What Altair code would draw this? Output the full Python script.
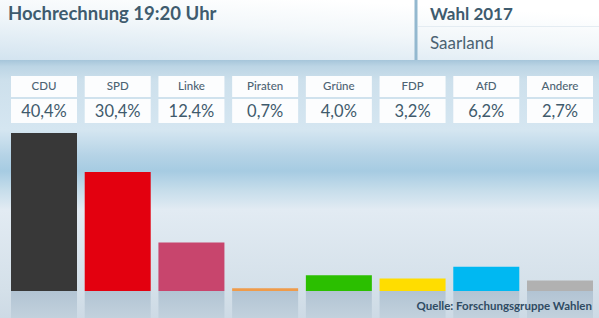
import altair as alt
import pandas as pd

parties = ["CDU", "SPD", "Linke", "Piraten", "Grüne", "FDP", "AfD", "Andere"]
values = [40.4, 30.4, 12.4, 0.7, 4.0, 3.2, 6.2, 2.7]
labels = ["40,4%", "30,4%", "12,4%", "0,7%", "4,0%", "3,2%", "6,2%", "2,7%"]
colors = ["#383838", "#e3000f", "#c8456d", "#ef9b4a", "#2bbf00", "#ffdd00", "#00b8f2", "#b1b1b1"]

title = "Hochrechnung 19:20 Uhr"
election = "Wahl 2017"
region = "Saarland"
source = "Quelle: Forschungsgruppe Wahlen"

FONT = "Lato"
df = pd.DataFrame({"party": parties, "value": values, "label": labels})
one = pd.DataFrame({"k": [0]})

xenc = alt.X("party:N", sort=parties, axis=None,
             scale=alt.Scale(range=[11, 593], paddingInner=0.1047, paddingOuter=0))

header_bg = alt.Chart(one).mark_rect(
    fill=alt.Gradient(gradient="linear", x1=0, y1=1, x2=0.55, y2=0,
                      stops=[alt.GradientStop(offset=0, color="#d3e4f0"),
                             alt.GradientStop(offset=0.6, color="#f2f7fa"),
                             alt.GradientStop(offset=1, color="#ffffff")])
).encode(x=alt.value(0), x2=alt.value(599), y=alt.value(0), y2=alt.value(60))

main_bg = alt.Chart(one).mark_rect(
    fill=alt.Gradient(gradient="linear", x1=0, y1=0, x2=0, y2=1,
                      stops=[alt.GradientStop(offset=0, color="#a6c5da"),
                             alt.GradientStop(offset=0.025, color="#bcd5e5"),
                             alt.GradientStop(offset=0.08, color="#cde0ec"),
                             alt.GradientStop(offset=0.27, color="#d5e6f1"),
                             alt.GradientStop(offset=0.37, color="#b5d3e6"),
                             alt.GradientStop(offset=0.43, color="#a6cbe2"),
                             alt.GradientStop(offset=0.5, color="#c4dcea"),
                             alt.GradientStop(offset=0.58, color="#e2ebf3"),
                             alt.GradientStop(offset=0.89, color="#d4e0e9"),
                             alt.GradientStop(offset=1, color="#cddae5")])
).encode(x=alt.value(0), x2=alt.value(599), y=alt.value(60), y2=alt.value(318))

divider_v = alt.Chart(one).mark_rule(stroke="#93b8cf", strokeWidth=3).encode(
    x=alt.value(416), y=alt.value(0), y2=alt.value(60))
divider_h = alt.Chart(one).mark_rule(stroke="#e4ecf2", strokeWidth=1).encode(
    x=alt.value(418), x2=alt.value(599), y=alt.value(26.5))

reflect = alt.Chart(df).mark_rect(
    fill=alt.Gradient(gradient="linear", x1=0, y1=0, x2=0, y2=1,
                      stops=[alt.GradientStop(offset=0, color="#b2c4d3"),
                             alt.GradientStop(offset=1, color="#c2d1dd")])
).encode(x=xenc, y=alt.value(291), y2=alt.value(318))

card_name = alt.Chart(df).mark_rect(fill="#fcfdfe").encode(
    x=xenc, y=alt.value(76), y2=alt.value(97))
card_val = alt.Chart(df).mark_rect(fill="#fcfdfe").encode(
    x=xenc, y=alt.value(99), y2=alt.value(123))

name_txt = alt.Chart(df).mark_text(font=FONT, fontSize=11.5, color="#4d6373",
                                   baseline="middle", fontWeight=500).encode(
    x=xenc, y=alt.value(87), text="party:N")
val_txt = alt.Chart(df).mark_text(font=FONT, fontSize=16.5, color="#3f5a6c",
                                  baseline="middle").encode(
    x=xenc, y=alt.value(111.5), text="label:N")

bars = alt.Chart(df).mark_bar().encode(
    x=xenc,
    y=alt.Y("value:Q", axis=None, scale=alt.Scale(domain=[0, 40.4], range=[291, 133])),
    color=alt.Color("party:N", scale=alt.Scale(domain=parties, range=colors), legend=None),
)

title_txt = alt.Chart(pd.DataFrame({"t": [title]})).mark_text(
    font=FONT, fontSize=18.5, fontWeight="bold", color="#3e5b6e", align="left",
    baseline="alphabetic").encode(x=alt.value(8), y=alt.value(20), text="t:N")
elec_txt = alt.Chart(pd.DataFrame({"t": [election]})).mark_text(
    font=FONT, fontSize=17, fontWeight="bold", color="#3e5b6e", align="left",
    baseline="alphabetic").encode(x=alt.value(430), y=alt.value(19.5), text="t:N")
reg_txt = alt.Chart(pd.DataFrame({"t": [region]})).mark_text(
    font=FONT, fontSize=17, color="#4a6272", align="left",
    baseline="alphabetic").encode(x=alt.value(430), y=alt.value(49), text="t:N")
src_txt = alt.Chart(pd.DataFrame({"t": [source]})).mark_text(
    font=FONT, fontSize=11.5, fontWeight="bold", color="#2f4b63", align="right",
    baseline="alphabetic").encode(x=alt.value(592), y=alt.value(310), text="t:N")

chart = alt.layer(
    header_bg, main_bg, divider_v, divider_h, reflect, card_name, card_val,
    name_txt, val_txt, bars, title_txt, elec_txt, reg_txt, src_txt
).properties(width=599, height=318, padding=0, autosize="none",
             background="#ffffff").configure_view(stroke=None)

chart.save("out.html", embed_options={"renderer": "svg", "actions": False})
